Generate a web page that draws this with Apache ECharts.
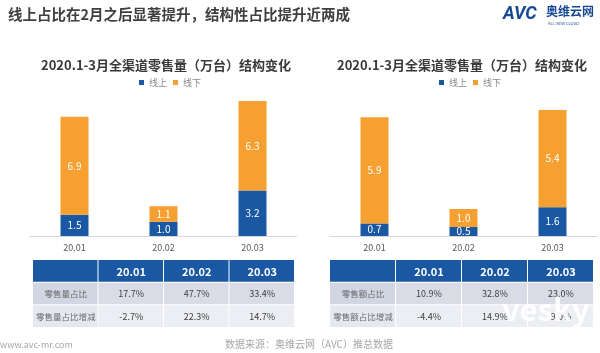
<!DOCTYPE html>
<html>
<head>
<meta charset="utf-8">
<script src="https://cdn.jsdelivr.net/npm/echarts@6/dist/echarts.min.js"></script>
<style>
  html, body { margin: 0; padding: 0; background: #fff; }
  #chart { width: 600px; height: 353px; }
</style>
</head>
<body>
<div id="chart"></div>
<script>
const months = ['20.01', '20.02', '20.03']
// 零售量（万台）
const volOnline = [1.5, 1.0, 3.2]
const volOffline = [6.9, 1.1, 6.3]
// 右图
const amtOnline = [0.7, 0.5, 1.6]
const amtOffline = [5.9, 1.0, 5.4]
// 表格
const volRows = ['零售量占比', '零售量占比增减']
const volShare = ['17.7%', '47.7%', '33.4%']
const volShareChg = ['-2.7%', '22.3%', '14.7%']
const amtRows = ['零售额占比', '零售额占比增减']
const amtShare = ['10.9%', '32.8%', '23.0%']
const amtShareChg = ['-4.4%', '14.9%', '9.0%']

const BLUE = '#1b58a3'
const ORANGE = '#f5a031'
const FONT = 'Noto Sans CJK SC'

const myChart = echarts.init(document.getElementById('chart'))

// 表格数据: [列, 行, 文字]
const tableData = (rows, share, chg) => {
  const out = [[0, 0, '']]
  months.forEach((m, i) => out.push([i + 1, 0, m]))
  out.push([0, 1, rows[0]])
  share.forEach((v, i) => out.push([i + 1, 1, v]))
  out.push([0, 2, rows[1]])
  chg.forEach((v, i) => out.push([i + 1, 2, v]))
  return out
}
const volTable = tableData(volRows, volShare, volShareChg)
const amtTable = tableData(amtRows, amtShare, amtShareChg)

const cellRenderer = (table) => (params, api) => {
  const item = table[params.dataIndex]
  const col = item[0]
  const row = item[1]
  const c = api.coord([col, row])
  const s = api.size([1, 1])
  let fill = row === 0 ? BLUE : (row === 1 ? '#d9dce7' : '#eceef4')
  if (row > 0 && col === 0) fill = row === 1 ? '#d2d5e2' : '#e6e8f0'
  return {
    type: 'group',
    children: [
      {
        type: 'rect',
        shape: { x: c[0] - s[0] / 2, y: c[1] - s[1] / 2, width: s[0] - 1, height: s[1] - 1 },
        style: { fill: fill }
      },
      {
        type: 'text',
        style: {
          x: c[0], y: c[1], text: item[2],
          align: 'center', verticalAlign: 'middle',
          fill: row === 0 ? '#fff' : (col === 0 ? '#6b6b6b' : '#404040'),
          font: (row === 0 ? 'bold 11px ' : (col === 0 ? '8.5px ' : '9px ')) + FONT
        }
      }
    ]
  }
}

const catAxis = (gridIndex) => ({
  type: 'category',
  gridIndex: gridIndex,
  data: months,
  axisLine: { lineStyle: { color: '#d9d9d9' } },
  axisTick: { show: false },
  axisLabel: { color: '#595959', fontSize: 9, margin: 7, fontFamily: FONT }
})

const tableX = (gridIndex) => ({
  type: 'category', gridIndex: gridIndex, data: ['c0', ...months], show: false
})
const tableY = (gridIndex) => ({
  type: 'category', gridIndex: gridIndex, data: ['h', 'r1', 'r2'], inverse: true, show: false
})

const barLabel = {
  show: true, position: 'inside', color: '#fff', fontSize: 10, fontFamily: FONT,
  formatter: (p) => p.value.toFixed(1)
}

const option = {
  backgroundColor: '#fff',
  textStyle: { fontFamily: FONT },
  title: [
    {
      text: '线上占比在2月之后显著提升，结构性占比提升近两成',
      left: 3, top: 2,
      textStyle: { fontSize: 14.5, fontWeight: 'bold', color: '#3f3f3f', fontFamily: FONT }
    },
    {
      text: '2020.1-3月全渠道零售量（万台）结构变化',
      left: 161, top: 54, textAlign: 'center',
      textStyle: { fontSize: 13, fontWeight: 'bold', color: '#3a3a3a', fontFamily: FONT }
    },
    {
      text: '2020.1-3月全渠道零售量（万台）结构变化',
      left: 457, top: 54, textAlign: 'center',
      textStyle: { fontSize: 13, fontWeight: 'bold', color: '#3a3a3a', fontFamily: FONT }
    }
  ],
  legend: [
    {
      data: ['线上', '线下'], left: 134, top: 73,
      icon: 'rect', itemWidth: 5, itemHeight: 5, itemGap: 6,
      textStyle: { fontSize: 9, color: '#8a8a8a', fontFamily: FONT }
    },
    {
      data: ['线上', '线下'], left: 434, top: 73,
      icon: 'rect', itemWidth: 5, itemHeight: 5, itemGap: 6,
      textStyle: { fontSize: 9, color: '#8a8a8a', fontFamily: FONT }
    }
  ],
  grid: [
    { left: 30, width: 267, top: 94, height: 142 },
    { left: 330, width: 267, top: 92, height: 144 },
    { left: 33, width: 262, top: 260, height: 68 },
    { left: 330, width: 264, top: 260, height: 68 }
  ],
  xAxis: [catAxis(0), catAxis(1), tableX(2), tableX(3)],
  yAxis: [
    { type: 'value', gridIndex: 0, min: 0, max: 10, show: false },
    { type: 'value', gridIndex: 1, min: 0, max: 8, show: false },
    tableY(2), tableY(3)
  ],
  series: [
    {
      name: '线上', type: 'bar', stack: 'L', xAxisIndex: 0, yAxisIndex: 0,
      data: volOnline, barWidth: 28, itemStyle: { color: BLUE }, label: barLabel
    },
    {
      name: '线下', type: 'bar', stack: 'L', xAxisIndex: 0, yAxisIndex: 0,
      data: volOffline, barWidth: 28, itemStyle: { color: ORANGE }, label: barLabel
    },
    {
      name: '线上', type: 'bar', stack: 'R', xAxisIndex: 1, yAxisIndex: 1,
      data: amtOnline, barWidth: 28, itemStyle: { color: BLUE }, label: barLabel
    },
    {
      name: '线下', type: 'bar', stack: 'R', xAxisIndex: 1, yAxisIndex: 1,
      data: amtOffline, barWidth: 28, itemStyle: { color: ORANGE }, label: barLabel
    },
    {
      type: 'custom', xAxisIndex: 2, yAxisIndex: 2,
      data: volTable.map(d => [d[0], d[1]]), renderItem: cellRenderer(volTable), silent: true
    },
    {
      type: 'custom', xAxisIndex: 3, yAxisIndex: 3,
      data: amtTable.map(d => [d[0], d[1]]), renderItem: cellRenderer(amtTable), silent: true
    }
  ],
  graphic: [
    {
      type: 'text', left: 503, top: 5,
      style: { text: 'AVC', font: 'italic bold 18px Roboto', fill: '#174a95' }
    },
    {
      type: 'text', left: 546, top: 5,
      style: { text: '奥维云网', font: 'bold 12px ' + FONT, fill: '#174a95' }
    },
    {
      type: 'text', left: 548, top: 21,
      style: { text: 'ALL VIEW CLOUD', font: '4px ' + FONT, fill: '#174a95' }
    },
    {
      type: 'text', left: 0, top: 340,
      style: { text: 'www.avc-mr.com', font: '9px ' + FONT, fill: '#a6a6a6' }
    },
    {
      type: 'text', left: 225, top: 339,
      style: { text: '数据来源：奥维云网（AVC）推总数据', font: '10px ' + FONT, fill: '#a6a6a6' }
    },
    {
      type: 'text', left: 502, top: 294, z: 100,
      style: { text: 'vesky', font: 'bold 31px ' + FONT, fill: 'rgba(255,255,255,0.9)' }
    }
  ]
}
option && myChart.setOption(option)
</script>
</body>
</html>
